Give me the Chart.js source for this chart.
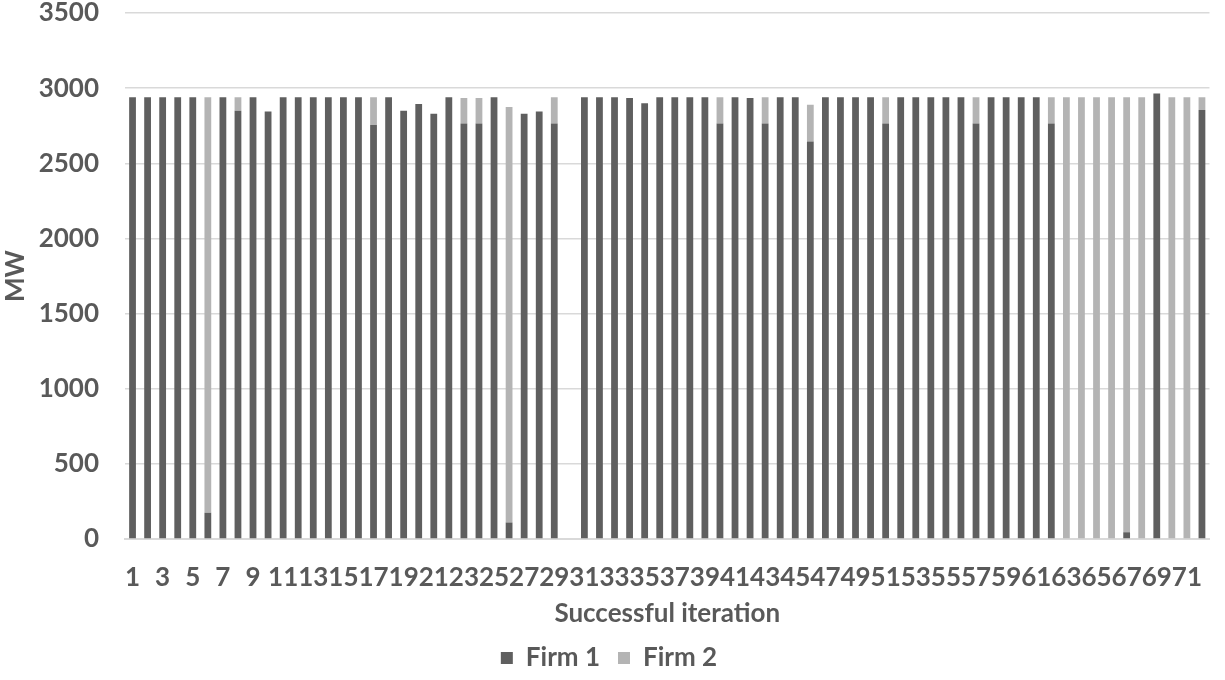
<!DOCTYPE html>
<html>
<head>
<meta charset="utf-8">
<script src="https://cdn.jsdelivr.net/npm/chart.js@4/dist/chart.umd.min.js"></script>
<style>
  html, body { margin: 0; padding: 0; background: #fff; }
</style>
</head>
<body>
<canvas id="barChart" width="1225" height="680"></canvas>
<script>
// iterations 1..72 (30 had no bar)
const iterations = Array.from({ length: 72 }, (_, i) => String(i + 1));

const firm1 = [
  2940, 2940, 2940, 2940, 2940, 175, 2940, 2850, 2940, 2845,
  2940, 2940, 2940, 2940, 2940, 2940, 2755, 2940, 2850, 2895,
  2830, 2940, 2765, 2765, 2940, 110, 2830, 2845, 2765, null,
  2940, 2940, 2940, 2935, 2900, 2940, 2940, 2940, 2940, 2765,
  2940, 2935, 2765, 2940, 2940, 2645, 2940, 2940, 2940, 2940,
  2765, 2940, 2940, 2940, 2940, 2940, 2765, 2940, 2940, 2940,
  2940, 2765, 0, 0, 0, 0, 45, 0, 2965, 0,
  0, 2855
];
const firm2 = [
  0, 0, 0, 0, 0, 2765, 0, 90, 0, 0,
  0, 0, 0, 0, 0, 0, 185, 0, 0, 0,
  0, 0, 170, 170, 0, 2765, 0, 0, 175, null,
  0, 0, 0, 0, 0, 0, 0, 0, 0, 175,
  0, 0, 175, 0, 0, 245, 0, 0, 0, 0,
  175, 0, 0, 0, 0, 0, 175, 0, 0, 0,
  0, 175, 2940, 2940, 2940, 2940, 2895, 2940, 0, 2940,
  2940, 85
];
const yTicks = [0, 500, 1000, 1500, 2000, 2500, 3000, 3500];

const textColor = '#595959';
const font = { family: 'Lato', weight: 'bold', size: 26 };

const ctx = document.getElementById('barChart').getContext('2d');

const myChart = new Chart(ctx, {
  type: 'bar',
  data: {
    labels: iterations,
    datasets: [
      { label: 'Firm 1', data: firm1, backgroundColor: '#5f5f5f' },
      { label: 'Firm 2', data: firm2, backgroundColor: '#b4b4b4' }
    ]
  },
  options: {
    responsive: false,
    animation: false,
    layout: { padding: { left: 0, right: 7, top: 0, bottom: -1 } },
    datasets: { bar: { barPercentage: 0.45, categoryPercentage: 1 } },
    plugins: {
      tooltip: { enabled: false },
      legend: {
        position: 'bottom',
        labels: {
          color: textColor,
          font: font,
          boxWidth: 12,
          boxHeight: 12,
          padding: 18
        }
      }
    },
    scales: {
      x: {
        stacked: true,
        grid: { display: false, drawTicks: false },
        border: { color: '#d9d9d9', width: 2 },
        ticks: {
          color: textColor,
          font: font,
          autoSkip: false,
          maxRotation: 0,
          padding: 23,
          callback: (v, i) => (i % 2 === 0 ? iterations[i] : '')
        },
        afterFit: axis => { axis.height = 88; },
        title: {
          display: true,
          text: 'Successful iteration',
          color: textColor,
          font: { family: 'Lato', weight: 'bold', size: 26, lineHeight: 1 },
          padding: { top: 0, bottom: 0 }
        }
      },
      y: {
        stacked: true,
        min: 0,
        max: 3500,
        afterBuildTicks: axis => { axis.ticks = yTicks.map(v => ({ value: v })); },
        afterFit: axis => {
          axis.width = 125;
          axis.paddingTop = 13;
          axis.paddingBottom = 0;
        },
        grid: { color: '#d9d9d9', lineWidth: 1.5, drawTicks: false },
        border: { display: false },
        ticks: { color: textColor, font: font, padding: 26, callback: v => String(v) },
        title: { display: true, text: 'MW', color: textColor, font: font, padding: { top: 0, bottom: 4 } }
      }
    }
  }
});
</script>
</body>
</html>
